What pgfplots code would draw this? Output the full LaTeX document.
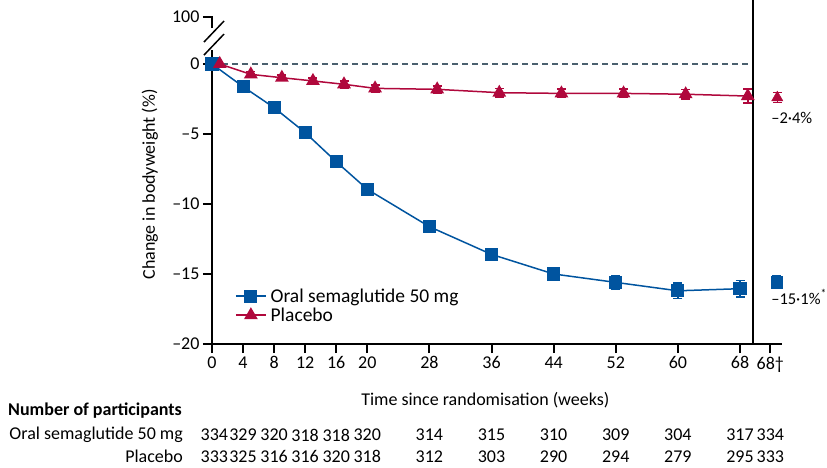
\documentclass[border=0pt]{standalone}
\usepackage{pgfplots}
\pgfplotsset{compat=1.18}
\usepackage{fontspec}
\setmainfont{Carlito}
\definecolor{semablue}{RGB}{0,84,159}
\definecolor{plared}{RGB}{176,8,60}
\definecolor{dashgrey}{RGB}{74,96,110}

\pgfplotstableread{
x y e
0 0 0
4 -1.62 0.2
8 -3.12 0.25
12 -4.9 0.3
16 -6.98 0.3
20 -8.95 0.35
28 -11.62 0.35
36 -13.6 0.4
44 -15.0 0.45
52 -15.6 0.5
60 -16.2 0.55
68 -16.05 0.6
}\sematable
\pgfplotstableread{
x y e
1 0 0
5 -0.74 0.2
9 -0.98 0.2
13 -1.21 0.2
17 -1.45 0.25
21 -1.74 0.25
29 -1.81 0.25
37 -2.05 0.3
45 -2.1 0.3
53 -2.1 0.3
61 -2.16 0.35
69 -2.29 0.5
}\platable

\newcommand{\f}{\fontsize{18}{21}\selectfont}
\begin{document}
\begin{tikzpicture}
\useasboundingbox (-212pt,-124pt) rectangle (615pt,344pt);
\begin{axis}[
 at={(0pt,0pt)}, anchor=south west,
 x=7.765pt, y=14pt,
 xmin=0, xmax=73.4, ymin=-20, ymax=3.36,
 axis lines=left,
 x axis line style={-, line width=2pt, black},
 y axis line style={-, draw=none},
 clip=false,
 xtick={0,4,8,12,16,20,28,36,44,52,60,68,71.9},
 xticklabels={0,4,8,12,16,20,28,36,44,52,60,68,68†},
 ytick={-20,-15,-10,-5,0,3.36},
 yticklabels={–20,–15,–10,–5,0,100},
 tick align=outside,
 major tick length=9pt,
 tick style={line width=2pt, black},
 ticklabel style={font=\f, black},
 legend style={at={(axis description cs:0.035,0.182)}, anchor=north west,
   draw=none, fill=none, font=\fontsize{19.5}{22}\selectfont, row sep=0pt,
   nodes={inner xsep=4pt}},
 legend cell align=left,
 legend image code/.code={\draw[mark repeat=2,mark phase=2] plot coordinates {(0pt,0pt)(15pt,0pt)(30pt,0pt)};},
]
% dashed zero line
\draw[dashgrey, dash pattern=on 6pt off 4pt, line width=1.6pt] (axis cs:0,0) -- (axis cs:69.6,0);
% y axis line with break
\draw[line width=2pt, black] (axis cs:0,-20.07) -- (axis cs:0,1.0);
\draw[line width=2pt, black] (axis cs:0,2.57) -- (axis cs:0,3.43);
\draw[line width=1.5pt, black] (axis cs:-1.03,1.57) -- (axis cs:1.55,3.07);
\draw[line width=1.5pt, black] (axis cs:-1.03,0.64) -- (axis cs:1.55,2.14);
% separator
\draw[line width=2.5pt, black] (axis cs:69.67,-20) -- (axis cs:69.67,4.6);

\addplot[semablue, line width=1.5pt, mark=square*, mark size=5.8pt,
  error bars/.cd, y dir=both, y explicit,
  error bar style={line width=1.5pt, semablue},
  error mark options={rotate=90, mark size=4.5pt, line width=1.5pt, semablue}]
  table[x=x, y=y, y error=e] {\sematable};
\addlegendentry{Oral semaglutide 50 mg}
\addplot[plared, line width=1.5pt, mark=triangle*, mark size=6.5pt,
  error bars/.cd, y dir=both, y explicit,
  error bar style={line width=1.5pt, plared},
  error mark options={rotate=90, mark size=4.5pt, line width=1.5pt, plared}]
  table[x=x, y=y, y error=e] {\platable};
\addlegendentry{Placebo}
\addplot[semablue, only marks, mark=square*, mark size=5.8pt, forget plot,
  error bars/.cd, y dir=both, y explicit,
  error bar style={line width=1.5pt, semablue},
  error mark options={rotate=90, mark size=4.5pt, line width=1.5pt, semablue}]
  coordinates {(72.7,-15.57) +- (0,0.45)};
\addplot[plared, only marks, mark=triangle*, mark size=6.5pt, forget plot,
  error bars/.cd, y dir=both, y explicit,
  error bar style={line width=1.5pt, plared},
  error mark options={rotate=90, mark size=4.5pt, line width=1.5pt, plared}]
  coordinates {(72.8,-2.4) +- (0,0.35)};

\node[anchor=west, inner xsep=0pt, font=\fontsize{16.5}{20}\selectfont] at (axis cs:72.0,-3.86) {–2·4\%};
\node[anchor=west, inner xsep=0pt, font=\fontsize{16.5}{20}\selectfont] at (axis cs:72.0,-16.64) {–15·1\%\textsuperscript{*}};

\node[rotate=90, font=\f] at (axis cs:-8.0,-8.6) {Change in bodyweight (\%)};
\node[font=\f] at (axis cs:35.2,-24.0) {Time since randomisation (weeks)};

\node[anchor=west, inner xsep=0pt, font=\f\bfseries] at (axis cs:-26.27,-24.79) {Number of participants};
\node[anchor=east, inner xsep=0pt, font=\f] at (axis cs:-3.73,-26.5) {Oral semaglutide 50 mg};
\node[anchor=east, inner xsep=0pt, font=\f] at (axis cs:-3.73,-28.05) {Placebo};

\begin{scope}[every node/.style={font=\f}]
\node at (axis cs:0.3,-26.5) {334};
\node at (axis cs:4,-26.5) {329};
\node at (axis cs:8,-26.5) {320};
\node at (axis cs:12,-26.5) {318};
\node at (axis cs:16,-26.5) {318};
\node at (axis cs:20,-26.5) {320};
\node at (axis cs:28,-26.5) {314};
\node at (axis cs:36,-26.5) {315};
\node at (axis cs:44,-26.5) {310};
\node at (axis cs:52,-26.5) {309};
\node at (axis cs:60,-26.5) {304};
\node at (axis cs:68,-26.5) {317};
\node at (axis cs:71.9,-26.5) {334};
\node at (axis cs:0.3,-28.05) {333};
\node at (axis cs:4,-28.05) {325};
\node at (axis cs:8,-28.05) {316};
\node at (axis cs:12,-28.05) {316};
\node at (axis cs:16,-28.05) {320};
\node at (axis cs:20,-28.05) {318};
\node at (axis cs:28,-28.05) {312};
\node at (axis cs:36,-28.05) {303};
\node at (axis cs:44,-28.05) {290};
\node at (axis cs:52,-28.05) {294};
\node at (axis cs:60,-28.05) {279};
\node at (axis cs:68,-28.05) {295};
\node at (axis cs:71.9,-28.05) {333};
\end{scope}
\end{axis}
\end{tikzpicture}
\end{document}
